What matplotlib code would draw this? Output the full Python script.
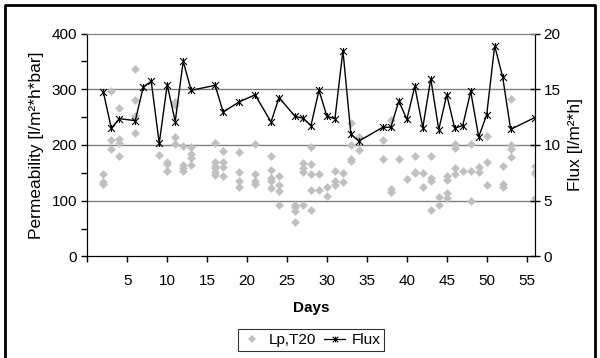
import numpy as np
import matplotlib
matplotlib.use('Agg')
import matplotlib.pyplot as plt
from matplotlib.path import Path
from matplotlib.lines import Line2D

plt.rcParams['font.family'] = ['Liberation Sans', 'DejaVu Sans']

# Flux [l/m2*h], prawa oś
flux_days = [2, 3, 4, 6, 7, 8, 9, 10, 11, 12, 13, 16, 17, 19, 21, 23, 24, 26, 27, 28,
             29, 30, 31, 32, 33, 34, 37, 38, 39, 40, 41, 42, 43, 44, 45, 46, 47, 48,
             49, 50, 51, 52, 53, 56]
flux = [14.76, 11.5, 12.36, 12.18, 15.2, 15.7, 10.15, 15.4, 12.1, 17.5, 14.9, 15.35,
        12.96, 13.86, 14.5, 12.06, 14.25, 12.57, 12.4, 11.74, 14.9, 12.57, 12.36, 18.47,
        10.95, 10.35, 11.59, 11.59, 13.94, 12.3, 15.25, 11.56, 15.95, 11.37, 14.5, 11.5,
        11.74, 14.8, 10.72, 12.7, 18.9, 16.1, 11.4, 12.45]

# Lp,T20 - kilka pomiarow na dzien
lp_days = [2, 2, 2,
           3, 3, 3,
           4, 4, 4, 4,
           6, 6, 6, 6,
           9,
           10, 10, 10,
           11, 11, 11, 11,
           12, 12, 12, 12,
           13, 13, 13, 13,
           16, 16, 16, 16, 16, 16,
           17, 17, 17, 17,
           19, 19, 19, 19,
           21, 21, 21, 21,
           23, 23, 23, 23, 23,
           24, 24, 24, 24,
           26, 26, 26, 26,
           27, 27, 27, 27,
           28, 28, 28, 28, 28,
           29, 29,
           30, 30,
           31, 31, 31,
           32, 32,
           33, 33, 33, 33,
           34, 34,
           37, 37,
           38, 38, 38,
           39,
           40,
           41, 41, 41,
           42, 42,
           43, 43, 43, 43,
           44, 44,
           45, 45, 45, 45,
           46, 46, 46, 46,
           47,
           48, 48, 48,
           49, 49,
           50, 50, 50,
           52, 52, 52,
           53, 53, 53, 53,
           56, 56, 56, 56]
lp_values = [147, 133, 130,
             296, 209, 193,
             267, 210, 203, 181,
             336, 280, 252, 222,
             182,
             170, 166, 154,
             277, 271, 214, 202,
             199, 164, 158, 154,
             197, 184, 176, 164,
             204, 169, 163, 158, 152, 146,
             190, 169, 161, 145,
             187, 151, 136, 125,
             201, 147, 135, 130,
             181, 155, 140, 136, 122,
             145, 128, 118, 93,
             93, 89, 82, 62,
             168, 158, 152, 92,
             197, 166, 148, 120, 84,
             148, 120,
             125, 109,
             154, 136, 128,
             150, 134,
             240, 200, 174, 171,
             215, 191,
             209, 174,
             245, 121, 116,
             175,
             139,
             181, 151, 149,
             150, 125,
             181, 141, 136, 83,
             106, 93,
             145, 138, 113, 104,
             202, 195, 159, 147,
             153,
             202, 154, 99,
             161, 151,
             216, 170, 128,
             162, 130, 125,
             283, 200, 192, 178,
             162, 152, 148, 104]

# znacznik "gwiazdka" jak w Excelu: X z pionowa kreska
gwiazdka = Path([(-1, -1), (1, 1), (-1, 1), (1, -1), (0, -1), (0, 1)],
                [Path.MOVETO, Path.LINETO, Path.MOVETO, Path.LINETO, Path.MOVETO, Path.LINETO])

fig = plt.figure(figsize=(6.0, 3.58), dpi=100)
ax = fig.add_axes([0.1456, 0.2838, 0.891 - 0.1456, 0.9064 - 0.2838])
ax2 = ax.twinx()

szary = '#c0c0c0'
ax.scatter(lp_days, lp_values, marker='D', s=20, color=szary, linewidths=0, zorder=3)
ax2.plot(flux_days, flux, color='black', lw=1.0, marker=gwiazdka, markersize=5,
         markeredgewidth=0.8, markerfacecolor='none', zorder=4)

ax.set_xlim(0, 56)
ax.set_ylim(0, 400)
ax2.set_ylim(0, 20)

ax.set_xticks(np.arange(0, 56, 5))
ax.set_xticklabels([''] + [str(v) for v in range(5, 56, 5)])
ax.set_yticks(np.arange(0, 401, 100))
ax.set_yticks(np.arange(50, 400, 100), minor=True)
ax2.set_yticks(np.arange(0, 21, 5))

for y in [100, 200, 300]:
    ax.axhline(y, color='#808080', lw=1, zorder=1)

ax.spines['top'].set_color('#808080')
ax2.spines['top'].set_color('#808080')
ax.tick_params(axis='both', which='both', direction='out', length=4, width=1,
               labelsize=11, colors='black')
ax.tick_params(axis='x', pad=9)
ax.tick_params(axis='y', which='minor', length=4)
ax2.tick_params(axis='y', direction='inout', length=7, width=1, labelsize=11, pad=3)

ax.set_xlabel('Days', fontsize=11, fontweight='bold', labelpad=9)
ax.set_ylabel('Permeability [l/m²*h*bar]', fontsize=12.5, labelpad=5)
ax2.set_ylabel('Flux [l/m²*h]', fontsize=12.5, labelpad=5)

uchwyty = [Line2D([], [], ls='none', marker='D', markersize=4, color=szary, markeredgewidth=0),
           Line2D([], [], color='black', lw=0.9, marker=gwiazdka, markersize=4,
                  markeredgewidth=0.8)]
leg = fig.legend(uchwyty, ['Lp,T20', 'Flux'], loc='center', bbox_to_anchor=(0.518, 0.05),
                 ncol=2, frameon=True, fancybox=False, fontsize=11, handlelength=1.4,
                 handletextpad=0.4, columnspacing=0.5, borderpad=0.25)
leg.get_frame().set_edgecolor('black')
leg.get_frame().set_linewidth(0.8)

# ramka wokol calego wykresu
fig.add_artist(Line2D([0.008, 0.008, 0.992, 0.992], [-0.1, 0.986, 0.986, -0.1],
                      transform=fig.transFigure, color='black', lw=2))

fig.savefig('out.png', dpi=100)
